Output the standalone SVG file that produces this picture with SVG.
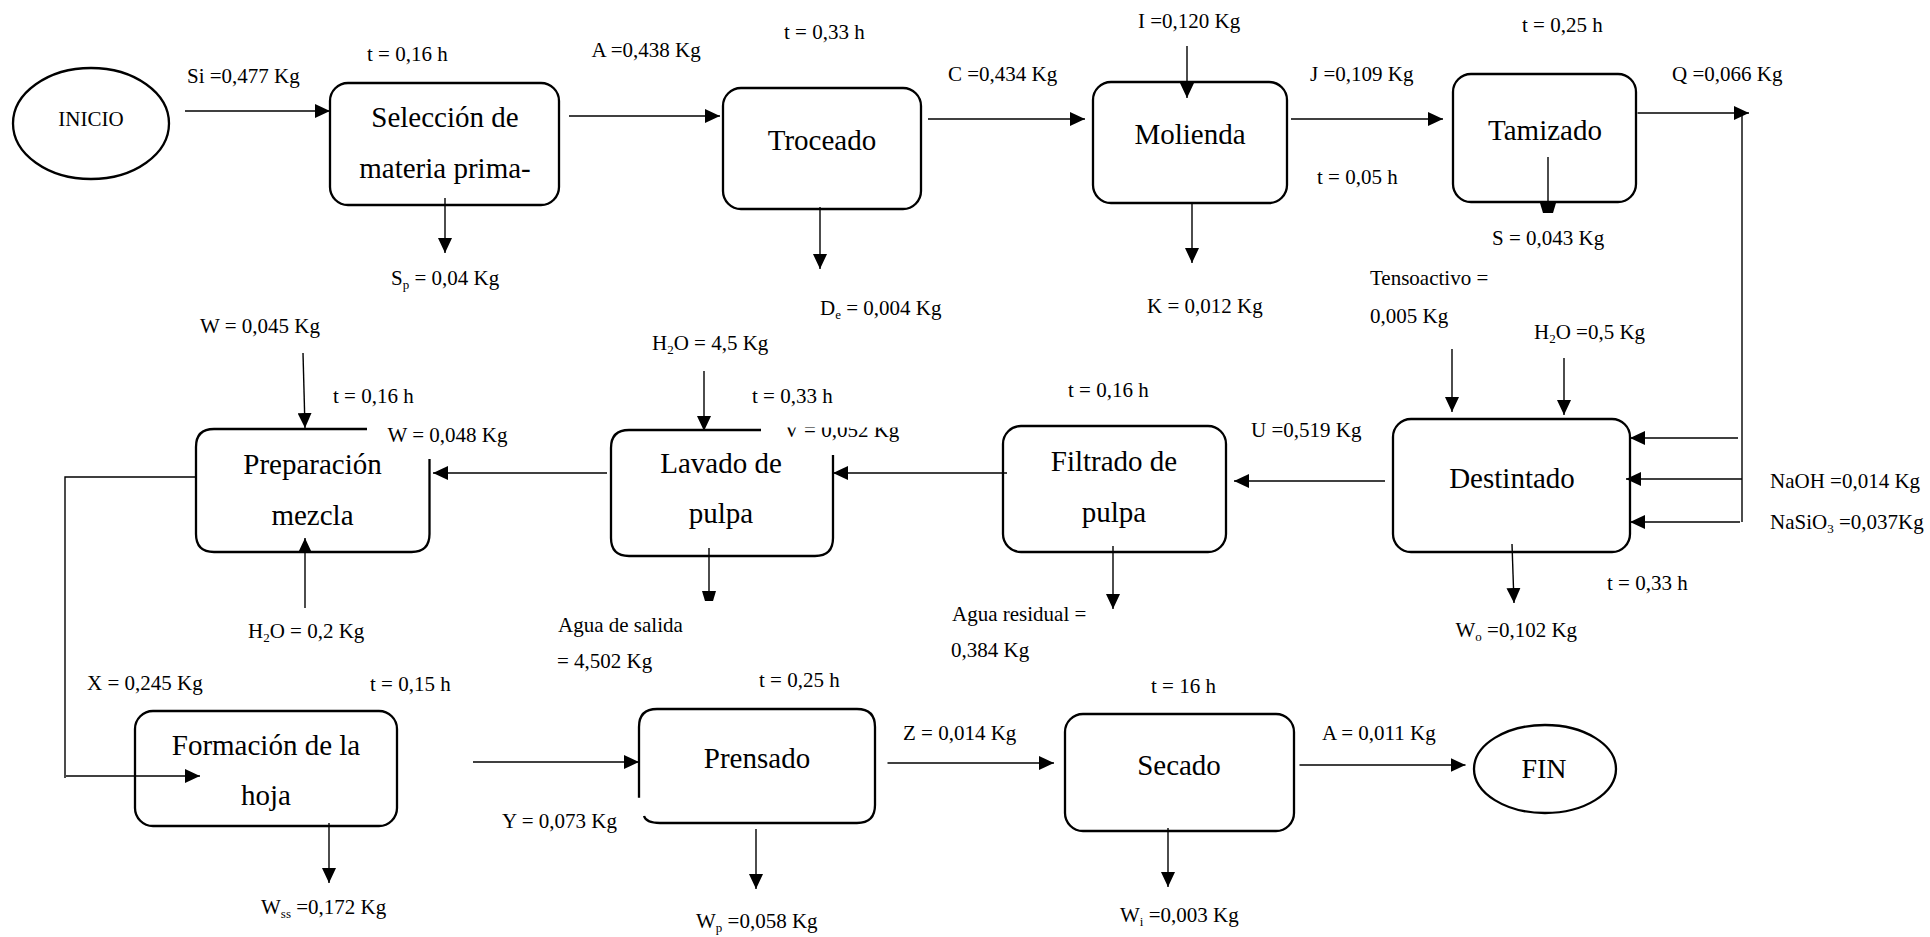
<svg xmlns="http://www.w3.org/2000/svg" width="1930" height="937" viewBox="0 0 1930 937">
<style>
.bg{fill:#fff}
.box{fill:none;stroke:#000;stroke-width:2.3}
.ell{fill:none;stroke:#000;stroke-width:2.3}
.bt{font-family:"Liberation Serif","Times New Roman",serif;font-size:29px;fill:#000;text-anchor:middle}
.lb{font-family:"Liberation Serif","Times New Roman",serif;font-size:21px;fill:#000}
.sub{font-size:13px}
.cn{fill:none;stroke:#000;stroke-width:1.4}
.cn-a{fill:none;stroke:#000;stroke-width:1.4;marker-end:url(#ah)}
.hd{fill:#000}
</style>
<defs>
<marker id="ah" viewBox="0 0 15 14" refX="15" refY="7" markerWidth="15" markerHeight="14" markerUnits="userSpaceOnUse" orient="auto">
<path d="M0,0 L15,7 L0,14 Z" fill="#000"/>
</marker>
<clipPath id="clipV"><rect x="780" y="427.5" width="200" height="30"/></clipPath>
</defs>
<rect class="bg" x="0" y="0" width="1930" height="937"/>

<g id="inicio">
<ellipse class="ell" cx="91" cy="123.5" rx="78" ry="55.5"/>
<text class="lb" x="91" y="126" text-anchor="middle">INICIO</text>
</g>

<g id="seleccion">
<rect class="box" x="330" y="83" width="229" height="122" rx="18" ry="18"/>
<text class="bt" x="445" y="127">Selección de</text>
<text class="bt" x="445" y="178">materia prima-</text>
</g>

<g id="troceado">
<rect class="box" x="723" y="88" width="198" height="121" rx="18" ry="18"/>
<text class="bt" x="822" y="150">Troceado</text>
</g>

<g id="molienda">
<rect class="box" x="1093" y="82" width="194" height="121" rx="18" ry="18"/>
<text class="bt" x="1190" y="144">Molienda</text>
</g>

<g id="tamizado">
<rect class="box" x="1453" y="74" width="183" height="128" rx="18" ry="18"/>
<text class="bt" x="1545" y="140">Tamizado</text>
</g>

<g id="destintado">
<rect class="box" x="1393" y="419" width="237" height="133" rx="18" ry="18"/>
<text class="bt" x="1512" y="488">Destintado</text>
</g>

<g id="filtrado">
<rect class="box" x="1003" y="426" width="223" height="126" rx="18" ry="18"/>
<text class="bt" x="1114" y="471">Filtrado de</text>
<text class="bt" x="1114" y="522">pulpa</text>
</g>

<g id="lavado">
<path class="box" d="M761,430 L629,430 Q611,430 611,448 L611,538 Q611,556 629,556 L815,556 Q833,556 833,538 L833,455"/>
<text class="bt" x="721" y="473">Lavado de</text>
<text class="bt" x="721" y="523">pulpa</text>
</g>

<g id="preparacion">
<path class="box" d="M367,429 L214,429 Q196,429 196,447 L196,534 Q196,552 214,552 L411.5,552 Q429.5,552 429.5,534 L429.5,459"/>
<text class="bt" x="312.5" y="474">Preparación</text>
<text class="bt" x="312.5" y="525">mezcla</text>
</g>

<g id="formacion">
<rect class="box" x="135" y="711" width="262" height="115" rx="18" ry="18"/>
<text class="bt" x="266" y="755">Formación de la</text>
<text class="bt" x="266" y="805">hoja</text>
</g>

<g id="prensado">
<path class="box" d="M639,797.7 L639,727 Q639,709 657,709 L857,709 Q875,709 875,727 L875,805 Q875,823 857,823 L660,823 Q646,823 644,816"/>
<text class="bt" x="757" y="768">Prensado</text>
</g>

<g id="secado">
<rect class="box" x="1065" y="714" width="229" height="117" rx="18" ry="18"/>
<text class="bt" x="1179" y="775">Secado</text>
</g>

<g id="fin">
<ellipse class="ell" cx="1545" cy="769" rx="71" ry="44"/>
<text class="bt" x="1544" y="778" style="font-size:28px">FIN</text>
</g>

<g id="connectors">
<line class="cn-a" x1="185" y1="111" x2="330" y2="111"/>
<line class="cn-a" x1="445" y1="198" x2="445" y2="253"/>
<line class="cn-a" x1="569" y1="116" x2="720" y2="116"/>
<line class="cn-a" x1="820" y1="207" x2="820" y2="269"/>
<line class="cn-a" x1="928" y1="119" x2="1085" y2="119"/>
<line class="cn-a" x1="1187" y1="46" x2="1187" y2="98"/>
<line class="cn-a" x1="1192" y1="203" x2="1192" y2="263"/>
<line class="cn-a" x1="1291" y1="119" x2="1443" y2="119"/>
<line class="cn" x1="1548" y1="157" x2="1548" y2="204"/>
<polygon class="hd" points="1540,203 1556,203 1553,213 1543,213"/>
<line class="cn-a" x1="1637.5" y1="113" x2="1749" y2="113"/>
<line class="cn" x1="1742" y1="113" x2="1742" y2="522"/>
<line class="cn-a" x1="1738" y1="438" x2="1630" y2="438"/>
<line class="cn-a" x1="1742" y1="479" x2="1626" y2="479"/>
<line class="cn-a" x1="1740" y1="522" x2="1630" y2="522"/>
<line class="cn-a" x1="1452" y1="349" x2="1452" y2="412"/>
<line class="cn-a" x1="1564" y1="358" x2="1564" y2="415"/>
<line class="cn-a" x1="1512" y1="544" x2="1514" y2="603"/>
<line class="cn-a" x1="1385" y1="481" x2="1234" y2="481"/>
<line class="cn-a" x1="1113" y1="546" x2="1113" y2="609"/>
<line class="cn-a" x1="1007" y1="473" x2="833" y2="473"/>
<line class="cn" x1="709" y1="548" x2="709" y2="592"/>
<polygon class="hd" points="702,591 716,591 713,601 705,601"/>
<line class="cn-a" x1="704" y1="371" x2="704" y2="431"/>
<line class="cn-a" x1="607" y1="473" x2="433" y2="473"/>
<line class="cn-a" x1="303" y1="353" x2="305" y2="428"/>
<line class="cn-a" x1="305" y1="608" x2="305" y2="538"/>
<polyline class="cn" points="196,477 65,477 65,778"/>
<line class="cn-a" x1="66" y1="776" x2="200" y2="776"/>
<line class="cn-a" x1="473" y1="762" x2="639" y2="762"/>
<line class="cn-a" x1="329" y1="823" x2="329" y2="883"/>
<line class="cn-a" x1="756" y1="829" x2="756" y2="889"/>
<line class="cn-a" x1="887.5" y1="763" x2="1054" y2="763"/>
<line class="cn-a" x1="1168" y1="828" x2="1168" y2="887"/>
<line class="cn-a" x1="1299.5" y1="765" x2="1465.5" y2="765"/>
</g>

<g id="labels">
<text class="lb" x="187" y="83">Si =0,477 Kg</text>
<text class="lb" x="367" y="61">t = 0,16 h</text>
<text class="lb" x="591.5" y="57">A =0,438 Kg</text>
<text class="lb" x="391" y="285">S<tspan class="sub" dy="4">p</tspan><tspan dy="-4"> = 0,04 Kg</tspan></text>
<text class="lb" x="784" y="39">t = 0,33 h</text>
<text class="lb" x="820" y="315">D<tspan class="sub" dy="4">e</tspan><tspan dy="-4"> = 0,004 Kg</tspan></text>
<text class="lb" x="948" y="81">C =0,434 Kg</text>
<text class="lb" x="1138" y="28">I =0,120 Kg</text>
<text class="lb" x="1147" y="313">K = 0,012 Kg</text>
<text class="lb" x="1310" y="81">J =0,109 Kg</text>
<text class="lb" x="1317" y="184">t = 0,05 h</text>
<text class="lb" x="1522" y="32">t = 0,25 h</text>
<text class="lb" x="1492" y="245">S = 0,043 Kg</text>
<text class="lb" x="1672" y="81">Q =0,066 Kg</text>
<text class="lb" x="1370" y="285">Tensoactivo =</text>
<text class="lb" x="1370" y="323">0,005 Kg</text>
<text class="lb" x="1534" y="339">H<tspan class="sub" dy="4">2</tspan><tspan dy="-4">O =0,5 Kg</tspan></text>
<text class="lb" x="1770" y="488">NaOH =0,014 Kg</text>
<text class="lb" x="1770" y="529">NaSiO<tspan class="sub" dy="4">3</tspan><tspan dy="-4"> =0,037Kg</tspan></text>
<text class="lb" x="1607" y="590">t = 0,33 h</text>
<text class="lb" x="1455.5" y="637">W<tspan class="sub" dy="4">o</tspan><tspan dy="-4"> =0,102 Kg</tspan></text>
<text class="lb" x="1251" y="437">U =0,519 Kg</text>
<text class="lb" x="1068" y="397">t = 0,16 h</text>
<text class="lb" x="952" y="621">Agua residual =</text>
<text class="lb" x="951" y="657">0,384 Kg</text>
<text class="lb" x="652" y="350">H<tspan class="sub" dy="4">2</tspan><tspan dy="-4">O = 4,5 Kg</tspan></text>
<text class="lb" x="752" y="403">t = 0,33 h</text>
<text class="lb" x="784" y="437" clip-path="url(#clipV)">V = 0,052 Kg</text>
<text class="lb" x="200" y="333">W = 0,045 Kg</text>
<text class="lb" x="333" y="403">t = 0,16 h</text>
<text class="lb" x="387.5" y="442">W = 0,048 Kg</text>
<text class="lb" x="248" y="638">H<tspan class="sub" dy="4">2</tspan><tspan dy="-4">O = 0,2 Kg</tspan></text>
<text class="lb" x="558" y="632">Agua de salida</text>
<text class="lb" x="557" y="668">= 4,502 Kg</text>
<text class="lb" x="87" y="690">X = 0,245 Kg</text>
<text class="lb" x="370" y="691">t = 0,15 h</text>
<text class="lb" x="261" y="914">W<tspan class="sub" dy="4">ss</tspan><tspan dy="-4"> =0,172 Kg</tspan></text>
<text class="lb" x="502" y="828">Y = 0,073 Kg</text>
<text class="lb" x="759" y="687">t = 0,25 h</text>
<text class="lb" x="696" y="928">W<tspan class="sub" dy="4">p</tspan><tspan dy="-4"> =0,058 Kg</tspan></text>
<text class="lb" x="903" y="740">Z = 0,014 Kg</text>
<text class="lb" x="1151" y="693">t = 16 h</text>
<text class="lb" x="1120" y="922">W<tspan class="sub" dy="4">i</tspan><tspan dy="-4"> =0,003 Kg</tspan></text>
<text class="lb" x="1322" y="740">A = 0,011 Kg</text>
</g>
</svg>
